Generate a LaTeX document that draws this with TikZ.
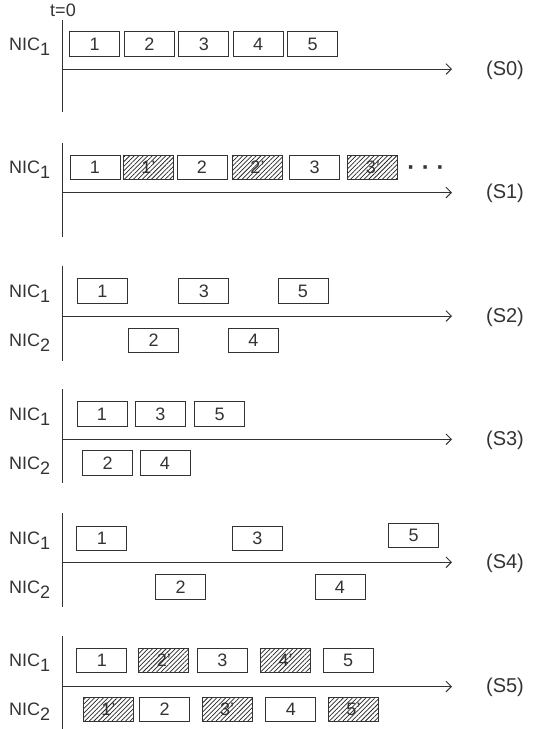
\documentclass[tikz,border=0pt]{standalone}
\usepackage{fontspec}
\setmainfont{Liberation Sans}
\usetikzlibrary{patterns,patterns.meta,arrows.meta}

\definecolor{ink}{RGB}{51,51,51}
\newcommand{\niclabel}[1]{NIC\raisebox{-0.3em}{#1}}

\begin{document}
\begin{tikzpicture}[x=0.75pt, y=-0.75pt, line width=0.7pt, color=ink,
  >={Straight Barb[length=4pt,width=8pt]},
  every node/.style={font=\fontsize{13.5}{15}\selectfont},
  pkt/.style={draw=ink, minimum width=37.5pt, minimum height=18.2pt, inner sep=0pt},
  dup/.style={pkt, pattern={Lines[angle=45,distance=2.4pt,line width=0.55pt]}, pattern color=black!85},
  nic/.style={anchor=base east},
  sname/.style={font=\fontsize{15}{17}\selectfont}]
  \useasboundingbox (0,0) rectangle (553,729);
  % (S0)
  \node[anchor=base] (tzero) at (63,16) {t=0};
  \coordinate (v0a) at (62,20);
  \coordinate (v0b) at (62,112);
  \coordinate (h0a) at (62,69);
  \coordinate (h0b) at (452,69);
  \draw (v0a) -- (v0b);
  \draw[->] (h0a) -- (h0b);
  \node[nic] (n0a) at (55,50) {\niclabel{1}};
  \node[pkt] (p01) at (94.7,44) {1};
  \node[pkt] (p02) at (149.5,44) {2};
  \node[pkt] (p03) at (203.9,44) {3};
  \node[pkt] (p04) at (258.2,44) {4};
  \node[pkt] (p05) at (312.6,44) {5};
  \node[sname] (s0) at (505,70) {(S0)};
  % (S1)
  \coordinate (v1a) at (62,142.7);
  \coordinate (v1b) at (62,237.3);
  \coordinate (h1a) at (62,192.5);
  \coordinate (h1b) at (452,192.5);
  \draw (v1a) -- (v1b);
  \draw[->] (h1a) -- (h1b);
  \node[nic] (n1a) at (55,173.5) {\niclabel{1}};
  \node[pkt] (p11) at (95,167.5) {1};
  \node[dup] (p11d) at (148.4,167.5) {1'};
  \node[pkt] (p12) at (202,167.5) {2};
  \node[dup] (p12d) at (257.5,167.5) {2'};
  \node[pkt] (p13) at (314.6,167.5) {3};
  \node[dup] (p13d) at (372.8,167.5) {3'};
  \node[font=\fontsize{18}{18}\selectfont\bfseries] (more) at (426,171) {· · ·};
  \node[sname] (s1) at (505,193.5) {(S1)};
  % (S2)
  \coordinate (v2a) at (62,266);
  \coordinate (v2b) at (62,360.7);
  \coordinate (h2a) at (62,316);
  \coordinate (h2b) at (452,316);
  \draw (v2a) -- (v2b);
  \draw[->] (h2a) -- (h2b);
  \node[nic] (n2a) at (55,297) {\niclabel{1}};
  \node[nic] (n2b) at (55,346.5) {\niclabel{2}};
  \node[pkt] (p21) at (102.3,291) {1};
  \node[pkt] (p23) at (203.9,291) {3};
  \node[pkt] (p25) at (303,291) {5};
  \node[pkt] (p22) at (153.7,340.5) {2};
  \node[pkt] (p24) at (253.5,340.5) {4};
  \node[sname] (s2) at (505,317) {(S2)};
  % (S3)
  \coordinate (v3a) at (62,389.3);
  \coordinate (v3b) at (62,483.3);
  \coordinate (h3a) at (62,439.3);
  \coordinate (h3b) at (452,439.3);
  \draw (v3a) -- (v3b);
  \draw[->] (h3a) -- (h3b);
  \node[nic] (n3a) at (55,420) {\niclabel{1}};
  \node[nic] (n3b) at (55,469) {\niclabel{2}};
  \node[pkt] (p31) at (102,414) {1};
  \node[pkt] (p33) at (160.4,414) {3};
  \node[pkt] (p35) at (219.6,414) {5};
  \node[pkt] (p32) at (107.7,463) {2};
  \node[pkt] (p34) at (165,463) {4};
  \node[sname] (s3) at (505,440.3) {(S3)};
  % (S4)
  \coordinate (v4a) at (62,513.3);
  \coordinate (v4b) at (62,607.3);
  \coordinate (h4a) at (62,562.3);
  \coordinate (h4b) at (452,562.3);
  \draw (v4a) -- (v4b);
  \draw[->] (h4a) -- (h4b);
  \node[nic] (n4a) at (55,544.3) {\niclabel{1}};
  \node[nic] (n4b) at (55,593) {\niclabel{2}};
  \node[pkt] (p41) at (101.8,538.3) {1};
  \node[pkt] (p43) at (257.5,538.3) {3};
  \node[pkt] (p45) at (413.7,535.5) {5};
  \node[pkt] (p42) at (180.7,587) {2};
  \node[pkt] (p44) at (340,587) {4};
  \node[sname] (s4) at (505,563.3) {(S4)};
  % (S5)
  \coordinate (v5a) at (62,636);
  \coordinate (v5b) at (62,729);
  \coordinate (h5a) at (62,686.5);
  \coordinate (h5b) at (452,686.5);
  \draw (v5a) -- (v5b);
  \draw[->] (h5a) -- (h5b);
  \node[nic] (n5a) at (55,666.5) {\niclabel{1}};
  \node[nic] (n5b) at (55,715.5) {\niclabel{2}};
  \node[pkt] (p51) at (101.8,660.5) {1};
  \node[dup] (p52d) at (163.9,660.5) {2'};
  \node[pkt] (p53) at (222.3,660.5) {3};
  \node[dup] (p54d) at (285.6,660.5) {4'};
  \node[pkt] (p55) at (348.2,660.5) {5};
  \node[dup] (p51d) at (108.4,709.5) {1'};
  \node[pkt] (p52) at (164.6,709.5) {2};
  \node[dup] (p53d) at (227.2,709.5) {3'};
  \node[pkt] (p54) at (290.9,709.5) {4};
  \node[dup] (p55d) at (353.5,709.5) {5'};
  \node[sname] (s5) at (505,687.5) {(S5)};
\end{tikzpicture}
\end{document}
